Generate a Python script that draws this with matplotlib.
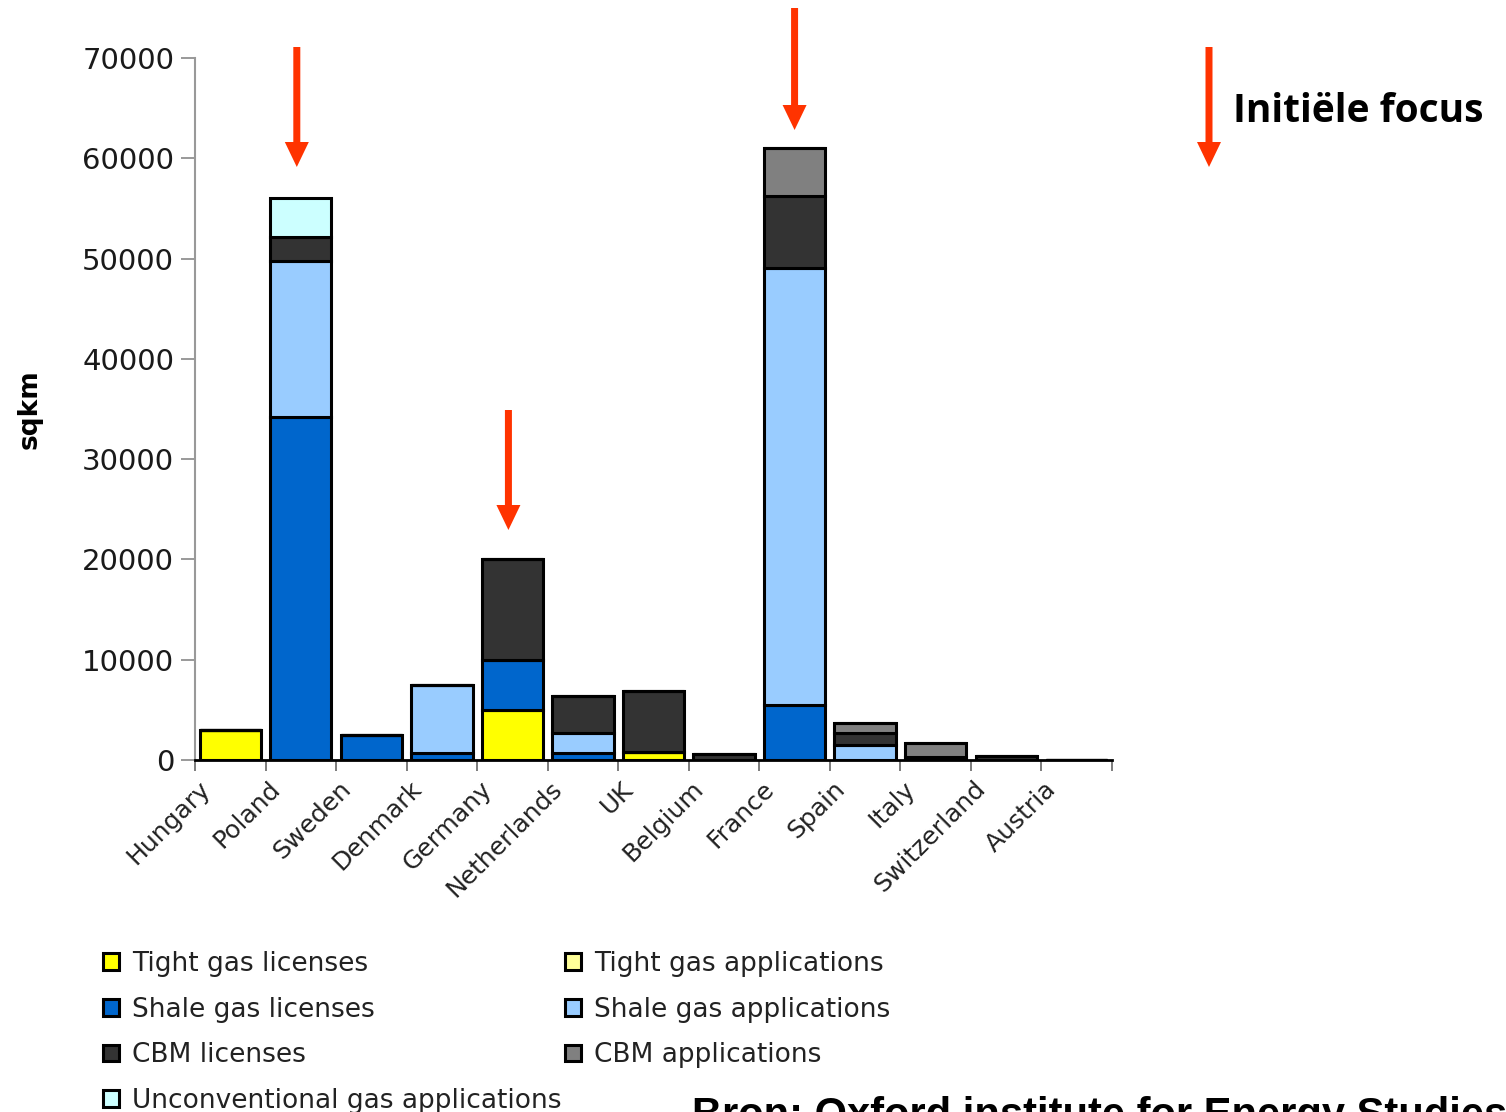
import numpy as np
import matplotlib
matplotlib.use("Agg")
import matplotlib.pyplot as plt
import matplotlib.transforms as mtransforms
from matplotlib.patches import FancyArrow

# area per country and licence type (sqkm)
countries = ["Hungary", "Poland", "Sweden", "Denmark", "Germany", "Netherlands",
             "UK", "Belgium", "France", "Spain", "Italy", "Switzerland", "Austria"]

tight_lic = [3000, 0, 0, 0, 5000, 0, 800, 0, 0, 0, 0, 0, 0]
tight_app = [0, 0, 0, 0, 0, 0, 0, 0, 0, 0, 0, 0, 0]
shale_lic = [0, 34200, 2500, 700, 5000, 700, 0, 0, 5500, 0, 0, 0, 0]
shale_app = [0, 15600, 0, 6800, 0, 2000, 0, 0, 43600, 1500, 0, 0, 0]
cbm_lic = [0, 2400, 0, 0, 10000, 3700, 6100, 600, 7100, 1200, 300, 400, 0]
cbm_app = [0, 0, 0, 0, 0, 0, 0, 0, 4800, 1000, 1400, 0, 0]
unconv_app = [0, 3800, 0, 0, 0, 0, 0, 0, 0, 0, 0, 0, 0]

series = [
    ("Tight gas licenses", tight_lic, "#FFFF00"),
    ("Tight gas applications", tight_app, "#FFFF99"),
    ("Shale gas licenses", shale_lic, "#0066CC"),
    ("Shale gas applications", shale_app, "#99CCFF"),
    ("CBM licenses", cbm_lic, "#333333"),
    ("CBM applications", cbm_app, "#808080"),
    ("Unconventional gas applications", unconv_app, "#CCFFFF"),
]

# countries singled out with a red arrow
focus = ["Poland", "Germany", "France"]

W, H = 1506, 1112
fig = plt.figure(figsize=(W / 100, H / 100), dpi=100)
ax = fig.add_axes([195 / W, 1 - 760 / H, (1112 - 195) / W, (760 - 58) / H])

x = np.arange(len(countries))
bottom = np.zeros(len(countries))
handles = {}
for name, vals, col in series:
    vals = np.array(vals, dtype=float)
    bars = ax.bar(x, vals, bottom=bottom, width=0.87, color=col,
                  edgecolor="black", linewidth=2.2, label=name)
    handles[name] = bars
    bottom += vals

ax.set_xlim(-0.5, len(countries) - 0.5)
ax.set_ylim(0, 70000)
ax.set_yticks(np.arange(0, 70001, 10000))
ax.tick_params(axis="y", labelsize=21, length=10, width=1.2, color="#888888",
               pad=5, labelcolor="#1a1a1a")
ax.set_xticks(x)
ax.set_xticklabels(countries, rotation=45, ha="right", va="center",
                   rotation_mode="anchor", fontsize=18, color="#222222")
ax.tick_params(axis="x", length=0, pad=18)
ax.set_xticks(np.arange(-0.5, len(countries)), minor=True)
ax.tick_params(axis="x", which="minor", length=8, width=1.2, color="#666666")
for sp in ["top", "right"]:
    ax.spines[sp].set_visible(False)
ax.spines["left"].set_color("#999999")
ax.spines["left"].set_linewidth(1.5)
ax.spines["bottom"].set_linewidth(2)
ax.set_ylabel("sqkm", fontsize=19, fontweight="bold")
ax.yaxis.set_label_coords(-0.166, 0.5, transform=ax.transAxes)

# shift the rotated labels a little to the left
shift = mtransforms.ScaledTranslation(-24 / 100, 0, fig.dpi_scale_trans)
for lab in ax.get_xticklabels():
    lab.set_transform(lab.get_transform() + shift)

order = ["Tight gas licenses", "Shale gas licenses", "CBM licenses",
         "Unconventional gas applications", "Tight gas applications",
         "Shale gas applications", "CBM applications"]
fig.legend([handles[n] for n in order], order, ncol=2, frameon=False,
           loc="upper left", bbox_to_anchor=(79 / W, 1 - 927 / H),
           fontsize=19, handlelength=0.6, handleheight=0.6, handletextpad=0.5,
           labelspacing=0.75, columnspacing=0.15, labelcolor="#222222")

# red arrows marking the initial focus countries
red = "#FF3300"


def arrow(px, y_top, y_tip):
    # y values in pixels from the top of the figure
    fig.add_artist(FancyArrow(px, H - y_top, 0, -(y_tip - y_top), width=7,
                              head_width=24, head_length=25,
                              length_includes_head=True, color=red, lw=0,
                              transform=None))


arrow_rows = [(47, 167, -4), (410, 530, -4), (8, 130, 0)]
for c, (y0, y1, dx) in zip(focus, arrow_rows):
    px = ax.transData.transform((countries.index(c), 0))[0] + dx
    arrow(px, y0, y1)
arrow(1209, 47, 167)
fig.text(1233 / W, 1 - 112 / H, "Initiële focus", fontsize=28,
         fontweight="bold", family="Open Sans", va="center", ha="left")

fig.text(692 / W, 1 - 1127 / H, "Bron: Oxford institute for Energy Studies",
         fontsize=30, fontweight="bold", family="Liberation Sans",
         va="baseline", ha="left")

fig.savefig("out.png", dpi=100)
